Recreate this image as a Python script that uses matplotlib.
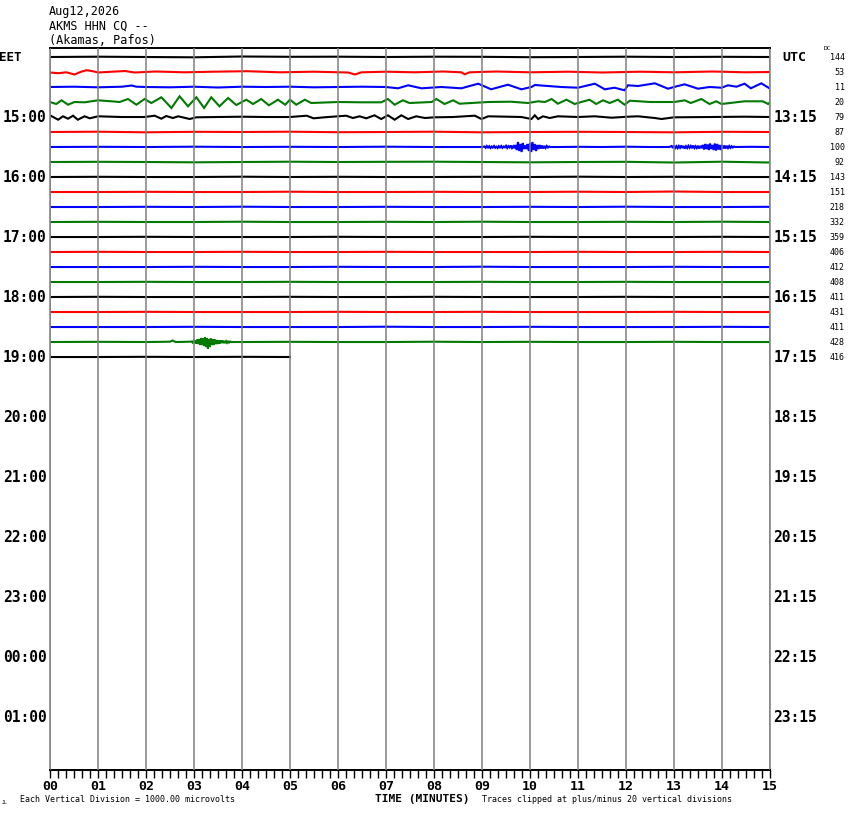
import numpy as np
import matplotlib
matplotlib.use('Agg')
import matplotlib.pyplot as plt
import matplotlib.transforms as mtransforms
from matplotlib.ticker import MultipleLocator

# header / labels
station_date = 'Aug12,2026'
station_code = 'AKMS HHN CQ --'
station_name = '(Akamas, Pafos)'
eet_labels = ['15:00', '16:00', '17:00', '18:00', '19:00', '20:00',
              '21:00', '22:00', '23:00', '00:00', '01:00']
utc_labels = ['13:15', '14:15', '15:15', '16:15', '17:15', '18:15',
              '19:15', '20:15', '21:15', '22:15', '23:15']
dc_values = [144, 53, 11, 20, 79, 87, 100, 92, 143, 151, 218, 332, 359,
             406, 412, 408, 411, 431, 411, 428, 416]
minute_labels = ['%02d' % m for m in range(16)]

# trace offsets in pixels (up = positive)
quiet_t = list(range(16))

row00_d = [0, 0.3, 0, -0.3, 0.5, 0.2, 0.3, 0, 0.3, 0.2, -0.2, 0, 0.3, 0, 0.2, 0]

row01_t = [0, 0.17, 0.34, 0.51, 0.65, 0.76, 0.9, 1.0, 1.3, 1.56, 1.76, 2.2, 2.8, 3.4,
           4.1, 4.8, 5.5, 6.21, 6.35, 6.49, 7.0, 7.6, 8.2, 8.57, 8.64, 8.74, 9.3, 10,
           10.8, 11.5, 12.3, 13, 13.8, 14.5, 15]
row01_d = [-0.5, -1.2, -0.3, -2.5, 0.3, 1.8, 0.7, -0.5, 0.3, 1.0, -0.5, 0.5, -0.3, 0.3,
           0.8, -0.3, 0.3, -0.5, -2.5, -0.3, 0.3, -0.3, 0.5, -0.3, -2.3, -0.3, 0.5, -0.3,
           0.3, -0.5, 0.3, -0.3, 0.5, -0.3, 0]

row02_t = [0, 0.5, 1.0, 1.5, 1.7, 1.8, 2.0, 2.5, 3.0, 3.5, 4.0, 4.5, 5.0, 5.5, 6.0,
           6.5, 7.0, 7.25, 7.46, 7.74, 8.15, 8.57, 8.92, 9.19, 9.54, 9.82, 10.03, 10.10,
           10.375, 10.65, 11.0, 11.35, 11.56, 11.76, 11.97, 12.04, 12.25, 12.6, 12.875,
           13.0, 13.22, 13.5, 13.74, 13.99, 14.125, 14.3, 14.47, 14.6, 14.82, 15.0]
row02_d = [0, 0.3, -0.3, 0.3, 1.5, 0.3, 0, -0.3, 0.3, -0.5, 0.3, 0, 0.3, -0.3, 0,
           0.3, 0, -1.3, 1.7, -1.3, 0, -1.3, 3.3, -2.3, 2.3, -2.3, 0, 2,
           1, 0, -0.7, 3.3, -2.3, -0.7, -3.3, 1.7, 1, 3.7, -1.7,
           0, 2.7, -1.7, 0, -0.7, 1.7, 0.3, 3.3, -1.3, 3.7, -1.7]

row03_t = [0, 0.13, 0.24, 0.375, 0.51, 0.72, 1.0, 1.28, 1.45, 1.625, 1.80, 1.97, 2.11,
           2.32, 2.53, 2.70, 2.875, 3.05, 3.21, 3.36, 3.53, 3.71, 3.88, 4.09, 4.23,
           4.40, 4.56, 4.75, 4.90, 5.0, 5.13, 5.31, 5.44, 6.0, 6.49, 6.9, 7.04, 7.18,
           7.35, 7.49, 7.95, 8.05, 8.22, 8.40, 8.53, 9.125, 9.6, 9.96, 10.17, 10.31,
           10.45, 10.58, 10.76, 10.93, 11.07, 11.24, 11.38, 11.52, 11.66, 11.83, 11.97,
           12.08, 12.5, 13.01, 13.22, 13.35, 13.57, 13.74, 13.88, 13.99, 14.47, 14.85,
           14.96, 15.0]
row03_d = [0, -2, 1.7, -2.7, 0, -0.3, 1.7, 0.7, 0, 3, -2.7, 3, -1,
           4.7, -6, 5.7, -4.3, 4.7, -6, 4.7, -4.3, 4, -3, 2.3, -2,
           3, -3.3, 2.3, -2.7, 2.3, -2.7, 2.3, -1, 0, -0.3, -0.3, 3, -2.7,
           1.7, -1, 0, 3, -2, 1.7, -1.7, 0, 0.3, -1, 0.7, 0,
           3, -1.7, 2.3, -2, 0, 2.3, -2, 1.7, -1, 2.3, -2.7,
           1.3, 0, 0, 1.7, -1, 3, -2, 0.7, -2, 0.7, 0.7,
           -2, -0.3]

row04_t = [0, 0.17, 0.27, 0.375, 0.48, 0.58, 0.72, 0.83, 1.0, 1.49, 1.97, 2.18, 2.32,
           2.42, 2.56, 2.67, 2.91, 3.05, 3.5, 4.0, 4.5, 5.0, 5.35, 5.49, 5.72, 6.0, 6.17,
           6.31, 6.45, 6.59, 6.76, 6.90, 7.04, 7.18, 7.32, 7.46, 7.63, 7.81, 8.01, 8.4,
           8.85, 8.99, 9.13, 9.82, 10.03, 10.1, 10.17, 10.27, 10.41, 10.58, 11.0, 11.35,
           11.7, 12.04, 12.25, 12.6, 12.74, 13.0, 13.78, 14.47, 15.0]
row04_d = [1.7, -2.7, 0.7, -1.7, 1.3, -2.7, 0.7, -1.3, 0.7, 0, 0, 1.3, -1.7,
           1, -1, 0.7, -2, -0.3, 0, 0.3, 0, 0, 1.3, -1.3, -0.3, 0.7, 1.3,
           -1, 0.7, -1.3, 1.7, -2, 1.7, -2.7, 1.7, -2, 0.7, -1, -0.3, 0,
           1.3, -2, 0.7, 0, -2, 1.7, -2, 0.7, -1, 0.7, 0, 0.7,
           -0.7, 0.3, 0.7, -1, -2, -0.3, 0, 0.3, 0]

row05_d = [0, 0.3, -0.3, 0.2, 0, 0.3, -0.2, 0, 0.3, -0.3, 0, 0.2, 0, -0.3, 0.2, 0]

row06_t = [0, 1, 2, 3, 4, 5, 6, 7, 8, 9.0]
row06_d = [0, 0.2, 0, 0.3, 0, 0.2, 0, 0.3, 0, 0]
row06_b1_start = 9.05
row06_b1 = [0.5, -0.8, 1, -0.5, 0.8, -1, 0.5, -0.5, 1, -0.8, 0.3, -1, 0.8, -0.5, 1, -0.8,
            0.5, -0.3, 1.2, -1, 0.8, -0.5, 1.5, -1, 0.8, -1.2,
            2, -3, 5, -4, 3, -5, 4, -2, 1.5, -2, 3, -4,
            4, -5, 5, -3, 3, -4, 2, -2,
            2, -1.5, 1.5, -1.5, 1, -1, 1, -0.5, 0.5, 0]
row06_mid_t = [10.6, 11, 11.5, 12, 12.5, 12.9]
row06_mid_d = [0, 0.2, 0, 0.3, 0, 0]
row06_b2_start = 12.95
row06_b2 = [1, -1, 1.5, -1, 0.8, -1.2, 1, -0.8, 1.5, -1, 1, -1.5, 0.8, -1, 1.2, -0.8,
            1, -1.2, 1.5, -1, 0.8, -1, 1.2, -1.5, 1, -1,
            2, -2.5, 3, -2, 2.5, -3, 3.5, -2, 2, -3, 3.5, -3.5, 3, -2.5, 2, -3,
            2, -1.5, 1.5, -1.5, 1.2, -1, 1, -0.8, 0.8, -0.5, 0.5, 0]
row06_end_t = [14.6, 15]
row06_end_d = [0.2, 0]

row07_d = [0, 0.2, 0, -0.3, 0, 0.3, 0, 0.2, 0.3, 0, -0.3, 0, 0.2, -0.5, 0.3, -0.5]
row08_d = [0, 0.2, 0, 0, 0.3, 0, 0.2, 0, 0, 0.2, 0, 0.3, 0, 0.2, 0, 0]
row09_d = [0, 0, 0.2, 0, 0, 0.3, 0, 0, 0.2, 0, 0, 0.3, 0, 0.5, 0, 0]
row10_d = [0, 0, 0.2, 0, 0.3, 0, 0, 0.2, 0, 0, 0.2, 0, 0.3, 0, 0, 0.2]
row11_d = [0, 0.2, 0, 0, 0.3, 0, 0, 0.2, 0, 0.3, 0, 0, 0.2, 0, 0.3, 0]
row12_d = [0, 0, 0.2, 0, 0, 0, 0.2, 0, 0, 0, 0.2, 0, 0, 0, 0.2, 0]
row13_d = [0, 0.2, 0, 0, 0.2, 0, 0, 0.2, 0, 0, 0, 0.2, 0, 0, 0.2, 0]
row14_d = [0, 0, 0, 0.2, 0, 0, 0.2, 0, 0, 0.3, 0, 0, 0, 0.2, 0, 0]
row15_d = [0, 0, 0.2, 0, 0, 0.2, 0, 0, 0, 0.2, 0, 0, 0.2, 0, 0, 0]
row16_d = [0, 0.2, 0, 0, 0, 0.2, 0, 0, 0.2, 0, 0, 0, 0.2, 0, 0, 0]
row17_d = [0, 0, 0.2, 0, 0, 0, 0.2, 0, 0, 0.2, 0, 0, 0, 0.2, 0, 0]
row18_d = [0, 0, 0, 0.2, 0, 0, 0, 0.3, 0, 0, 0.2, 0, 0, 0, 0.2, 0]

row19_t = [0, 1, 2, 2.5, 2.55, 2.62, 2.9]
row19_d = [0, 0.2, 0, 0.3, 1.5, 0, 0.3]
row19_b_start = 2.95
row19_b = [0.5, -0.5, 1, -1, 1.5, -1.5, 2.5, -2, 3, -3, 4, -3, 3.5, -4, 4.5, -5, 4, -6.5,
           3, -5, 3.5, -3, 2.5, -3, 2.5, -2, 2, -2, 1.5, -1.5, 1.5, -1, 1.5, -1, 1, -1,
           0.8, -0.8, 0.5, -0.5, 0.5, 0]
row19_end_t = [4, 5, 6, 7, 8, 9, 10, 11, 12, 13, 14, 15]
row19_end_d = [0, 0.2, 0, 0, 0.3, 0, 0.2, 0, 0, 0.2, 0, 0]

row20_t = [0, 1, 2, 3, 4, 5]
row20_d = [0, 0, 0.2, 0, 0.2, 0]

BURST_STEP = 0.025


def burst_times(start, vals, step=BURST_STEP):
    return list(start + step * np.arange(len(vals)))


row06_t_all = (row06_t + burst_times(row06_b1_start, row06_b1) + row06_mid_t
               + burst_times(row06_b2_start, row06_b2) + row06_end_t)
row06_d_all = row06_d + row06_b1 + row06_mid_d + row06_b2 + row06_end_d
row19_t_all = row19_t + burst_times(row19_b_start, row19_b, 0.02) + row19_end_t
row19_d_all = row19_d + row19_b + row19_end_d

traces = [
    (quiet_t, row00_d), (row01_t, row01_d), (row02_t, row02_d), (row03_t, row03_d),
    (row04_t, row04_d), (quiet_t, row05_d), (row06_t_all, row06_d_all), (quiet_t, row07_d),
    (quiet_t, row08_d), (quiet_t, row09_d), (quiet_t, row10_d), (quiet_t, row11_d),
    (quiet_t, row12_d), (quiet_t, row13_d), (quiet_t, row14_d), (quiet_t, row15_d),
    (quiet_t, row16_d), (quiet_t, row17_d), (quiet_t, row18_d), (row19_t_all, row19_d_all),
    (row20_t, row20_d),
]

colors = ['black', '#ff0000', '#0000ff', '#007a00']
PX_PER_ROW = 15.0
mono = 'DejaVu Sans Mono'

fig = plt.figure(figsize=(8.5, 8.14), dpi=100)
ax = fig.add_axes([50 / 850, 44 / 814, 720 / 850, 722 / 814])
ax.set_xlim(0, 15)
ax.set_ylim(47.53, -0.6)

for k, (t, d) in enumerate(traces):
    y = k - np.asarray(d, dtype=float) / PX_PER_ROW
    ax.plot(t, y, color=colors[k % 4], lw=1.5, solid_joinstyle='miter', zorder=2)

for m in range(16):
    ax.axvline(m, color='#808080', lw=1.1, zorder=3)

for s in ['left', 'right']:
    ax.spines[s].set_color('#808080')
    ax.spines[s].set_linewidth(1.1)
for s in ['top', 'bottom']:
    ax.spines[s].set_color('black')
    ax.spines[s].set_linewidth(1.4)

ax.set_yticks([])
ax.xaxis.set_minor_locator(MultipleLocator(1 / 6))
ax.set_xticks(range(16))
ax.set_xticklabels(minute_labels, fontfamily=mono, fontweight='bold', fontsize=9.5)
ax.tick_params(axis='x', which='both', direction='out', length=5.5, width=1.0,
               color='black', pad=2)

# hour labels
trans = mtransforms.blended_transform_factory(ax.transAxes, ax.transData)
for i, (le, ri) in enumerate(zip(eet_labels, utc_labels)):
    row = 4 * (i + 1)
    ax.text(-0.005, row, le, transform=trans, ha='right', va='center',
            fontfamily=mono, fontweight='bold', fontsize=10.5)
    ax.text(1.005, row, ri, transform=trans, ha='left', va='center',
            fontfamily=mono, fontweight='bold', fontsize=10.5)
ax.text(-0.0715, 0, 'EET', transform=trans, ha='left', va='center',
        fontfamily=mono, fontweight='bold', fontsize=9)
ax.text(1.017, 0, 'UTC', transform=trans, ha='left', va='center',
        fontfamily=mono, fontweight='bold', fontsize=9.5)
for k, v in enumerate(dc_values):
    ax.text(1.104, k, str(v), transform=trans, ha='right', va='center',
            fontfamily=mono, fontsize=6)
fig.text(824 / 850, 1 - 48.5 / 814, 'DC', fontfamily=mono, fontsize=4.5, ha='left', va='center')

# header
for j, txt in enumerate([station_date, station_code, station_name]):
    fig.text(49 / 850, 1 - (11 + 15 * j) / 814, txt, fontfamily=mono, fontsize=8.5,
             ha='left', va='center')

# footer
fig.text(422 / 850, 1 - 799 / 814, 'TIME (MINUTES)', fontfamily=mono, fontweight='bold',
         fontsize=8, ha='center', va='center')
fig.text(20 / 850, 1 - 800 / 814, 'Each Vertical Division = 1000.00 microvolts',
         fontfamily=mono, fontsize=6, ha='left', va='center')
fig.text(482 / 850, 1 - 800 / 814, 'Traces clipped at plus/minus 20 vertical divisions',
         fontfamily=mono, fontsize=6, ha='left', va='center')
fig.text(2 / 850, 1 - 802 / 814, 'JL', fontfamily=mono, fontsize=3.5, ha='left', va='center')

fig.savefig('out.png', dpi=100, facecolor='white')
